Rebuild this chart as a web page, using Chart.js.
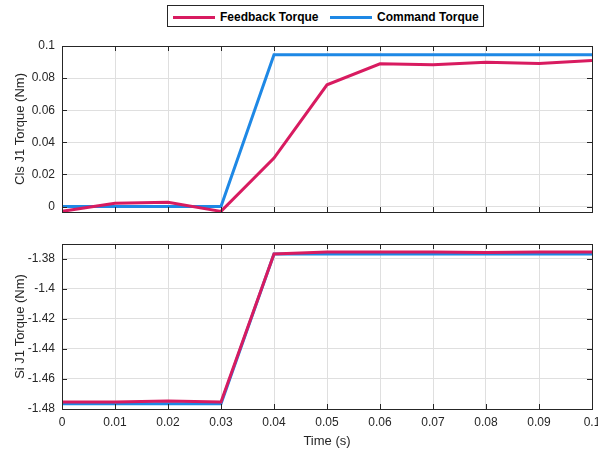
<!DOCTYPE html>
<html>
<head>
<meta charset="utf-8">
<script src="https://cdn.jsdelivr.net/npm/chart.js@4"></script>
<style>
  body { margin: 0; background: #fff; }
  #wrap { position: relative; width: 598px; height: 451px; font-family: "Liberation Sans", Arial, sans-serif; }
  canvas { position: absolute; left: 0; }
  #legend { position: absolute; left: 167px; top: 5px; width: 317px; height: 22px; border: 1px solid #262626; box-sizing: border-box; }
  .item { position: absolute; top: 0; height: 22px; display: flex; align-items: center; font-weight: bold; font-size: 12px; color: #000; }
  .swatch { display: inline-block; width: 42px; height: 3px; margin-right: 5px; }
</style>
</head>
<body>
<div id="wrap">
  <div id="legend"></div>
  <canvas id="top" width="598" height="186" style="top:36px"></canvas>
  <canvas id="bottom" width="598" height="221" style="top:230px"></canvas>
</div>
<script>
// time axis
const times = [0, 0.01, 0.02, 0.03, 0.04, 0.05, 0.06, 0.07, 0.08, 0.09, 0.1];
const seriesNames = ['Feedback Torque', 'Command Torque'];
const seriesColors = ['#d81b60', '#1e88e5'];

// upper plot: Cls J1 torque
const clsFeedback = [-0.003, 0.0021, 0.0027, -0.003, 0.0302, 0.0758, 0.0889, 0.0883, 0.0898, 0.0891, 0.0910];
const clsCommand  = [0, 0, 0, 0, 0.0946, 0.0946, 0.0946, 0.0946, 0.0946, 0.0946, 0.0946];

// lower plot: Si J1 torque
const siFeedback = [-1.4753, -1.4753, -1.4747, -1.4753, -1.3767, -1.3753, -1.3753, -1.3753, -1.3757, -1.3753, -1.3753];
const siCommand  = [-1.4765, -1.4765, -1.4765, -1.4765, -1.3767, -1.3767, -1.3767, -1.3767, -1.3767, -1.3767, -1.3767];

const xTicks = [0, 0.01, 0.02, 0.03, 0.04, 0.05, 0.06, 0.07, 0.08, 0.09, 0.1];
const clsTicks = [0, 0.02, 0.04, 0.06, 0.08, 0.1];
const siTicks = [-1.48, -1.46, -1.44, -1.42, -1.4, -1.38];

const axisColor = '#262626';
const gridColor = '#dfdfdf';

// legend
const legend = document.getElementById('legend');
const itemLeft = [5, 162];
seriesNames.forEach(function(name, i) {
  const el = document.createElement('div');
  el.className = 'item';
  el.style.left = itemLeft[i] + 'px';
  el.innerHTML = '<span class="swatch" style="background:' + seriesColors[i] + '"></span>' + name;
  legend.appendChild(el);
});

// box + inward ticks like matlab
const boxPlugin = {
  id: 'box',
  afterDraw(chart) {
    const a = chart.chartArea;
    const c = chart.ctx;
    c.save();
    c.strokeStyle = axisColor;
    c.lineWidth = 1;
    c.beginPath();
    chart.scales.x.ticks.forEach(function(t) {
      const px = Math.round(chart.scales.x.getPixelForValue(t.value)) + 0.5;
      c.moveTo(px, a.bottom); c.lineTo(px, a.bottom - 5);
      c.moveTo(px, a.top); c.lineTo(px, a.top + 5);
    });
    chart.scales.y.ticks.forEach(function(t) {
      const py = Math.round(chart.scales.y.getPixelForValue(t.value)) + 0.5;
      c.moveTo(a.left, py); c.lineTo(a.left + 5, py);
      c.moveTo(a.right, py); c.lineTo(a.right - 5, py);
    });
    c.stroke();
    c.strokeRect(Math.round(a.left) + 0.5, Math.round(a.top) + 0.5, Math.round(a.right - a.left), Math.round(a.bottom - a.top));
    c.restore();
  }
};

function points(ys) {
  return times.map(function(t, i) { return { x: t, y: ys[i] }; });
}

function makeChart(id, fb, cmd, yMin, yMax, yTicks, yTitle, showX, pad) {
  const ctx = document.getElementById(id).getContext('2d');
  return new Chart(ctx, {
    type: 'line',
    data: {
      datasets: [
        { label: seriesNames[0], data: points(fb), borderColor: seriesColors[0], borderWidth: 3, pointRadius: 0, tension: 0 },
        { label: seriesNames[1], data: points(cmd), borderColor: seriesColors[1], borderWidth: 3, pointRadius: 0, tension: 0 }
      ]
    },
    options: {
      responsive: false,
      animation: false,
      layout: { padding: pad },
      plugins: { legend: { display: false }, tooltip: { enabled: false } },
      scales: {
        x: {
          type: 'linear',
          min: 0,
          max: 0.1,
          afterBuildTicks: function(s) { s.ticks = xTicks.map(function(v) { return { value: v }; }); },
          afterFit: function(s) {
            s.height = showX ? 42 : 0;
            s.paddingLeft = 0;
            s.paddingRight = 0;
          },
          grid: { color: gridColor, drawTicks: false },
          border: { display: false },
          ticks: {
            display: showX,
            padding: 6,
            color: axisColor,
            font: { family: 'Liberation Sans', size: 12 },
            maxRotation: 0,
            callback: function(v) { return +v.toFixed(2); }
          },
          title: {
            display: showX,
            text: 'Time (s)',
            color: axisColor,
            font: { family: 'Liberation Sans', size: 13 },
            padding: { top: 0, bottom: 2 }
          }
        },
        y: {
          min: yMin,
          max: yMax,
          afterBuildTicks: function(s) { s.ticks = yTicks.map(function(v) { return { value: v }; }); },
          afterFit: function(s) {
            s.width = 62;
            s.paddingTop = 0;
            s.paddingBottom = 0;
          },
          grid: { color: gridColor, drawTicks: false },
          border: { display: false },
          ticks: {
            padding: 7,
            color: axisColor,
            font: { family: 'Liberation Sans', size: 12 },
            callback: function(v) { return +v.toFixed(2); }
          },
          title: {
            display: true,
            text: yTitle,
            color: axisColor,
            font: { family: 'Liberation Sans', size: 13 },
            padding: { top: 13, bottom: 0 }
          }
        }
      }
    },
    plugins: [boxPlugin]
  });
}

makeChart('top', clsFeedback, clsCommand, -0.0034, 0.1, clsTicks, 'Cls J1 Torque (Nm)', false,
  { top: 10, bottom: 10, left: 0, right: 6 });
makeChart('bottom', siFeedback, siCommand, -1.48, -1.37, siTicks, 'Si J1 Torque (Nm)', true,
  { top: 14, bottom: 0, left: 0, right: 6 });
</script>
</body>
</html>
